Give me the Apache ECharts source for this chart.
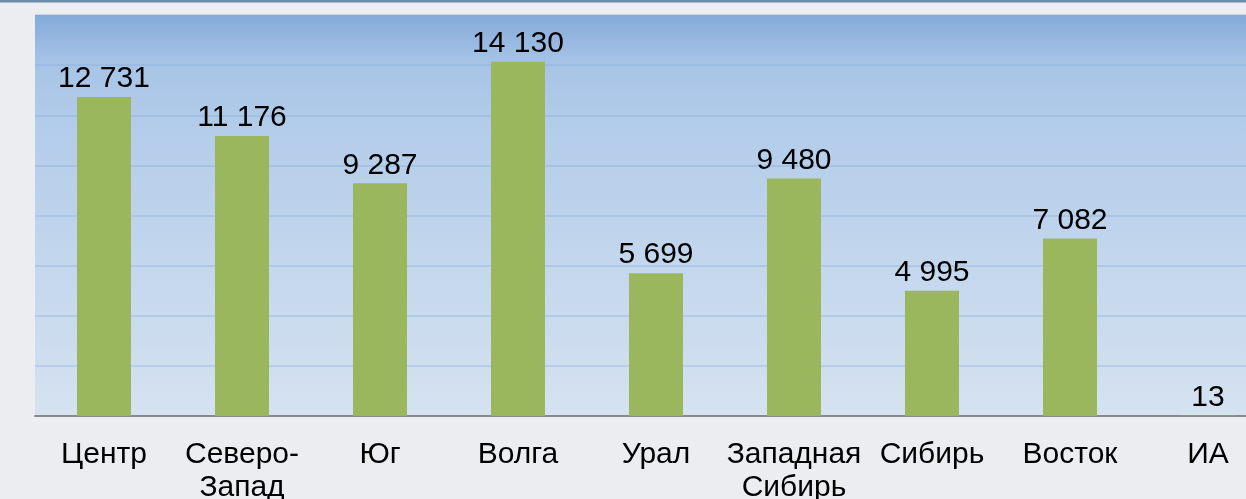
<!DOCTYPE html>
<html>
<head>
<meta charset="utf-8">
<script src="https://cdn.jsdelivr.net/npm/echarts@6/dist/echarts.min.js"></script>
<style>
html,body{margin:0;padding:0;background:#ecedf0;}
#c{width:1246px;height:499px;}
</style>
</head>
<body>
<div id="c"></div>
<script>
const categories = ['Центр', 'Северо-\nЗапад', 'Юг', 'Волга', 'Урал', 'Западная\nСибирь', 'Сибирь', 'Восток', 'ИА'];
const values = [12731, 11176, 9287, 14130, 5699, 9480, 4995, 7082, 13];
const yMin = 0, yMax = 16000, yInterval = 2000;

const chart = echarts.init(document.getElementById('c'), null, {renderer: 'canvas'});
const fmt = v => String(v).replace(/\B(?=(\d{3})+(?!\d))/g, ' ');
chart.setOption({
  animation: false,
  backgroundColor: '#ecedf0',
  textStyle: {fontFamily: 'Liberation Sans, Arial, sans-serif'},
  grid: {
    left: 35, top: 15, width: 1242, height: 401,
    containLabel: false,
    outerBoundsMode: 'none',
    show: true, borderWidth: 0,
    backgroundColor: new echarts.graphic.LinearGradient(0, 0, 0, 1, [
      {offset: 0, color: '#83aad9'},
      {offset: 0.12, color: '#a7c4e6'},
      {offset: 0.3, color: '#b4cdea'},
      {offset: 1, color: '#d5e2f0'}
    ])
  },
  xAxis: {
    type: 'category',
    data: categories,
    axisTick: {show: false},
    axisLine: {lineStyle: {color: '#8a8a8a', width: 2}},
    axisLabel: {
      color: '#000', fontSize: 30, lineHeight: 33, margin: 22, interval: 0,
      fontFamily: 'Liberation Sans, Arial, sans-serif'
    }
  },
  yAxis: {
    type: 'value', min: yMin, max: yMax, interval: yInterval,
    axisLabel: {show: false}, axisLine: {show: false}, axisTick: {show: false},
    splitLine: {lineStyle: {color: 'rgba(125,165,218,0.3)', width: 2}}
  },
  series: [{
    type: 'bar',
    data: values,
    barWidth: 54,
    itemStyle: {color: '#9bb75e'},
    label: {
      show: true, position: 'top', distance: 3,
      color: '#000', fontSize: 30,
      fontFamily: 'Liberation Sans, Arial, sans-serif',
      formatter: p => fmt(p.value)
    }
  }],
  graphic: [
    {type: 'rect', shape: {x: 0, y: 0, width: 1246, height: 2}, style: {fill: '#6a8ca6'}},
    {type: 'rect', shape: {x: 0, y: 2, width: 1246, height: 1}, style: {fill: '#a9bccb'}}
  ]
});
</script>
</body>
</html>
